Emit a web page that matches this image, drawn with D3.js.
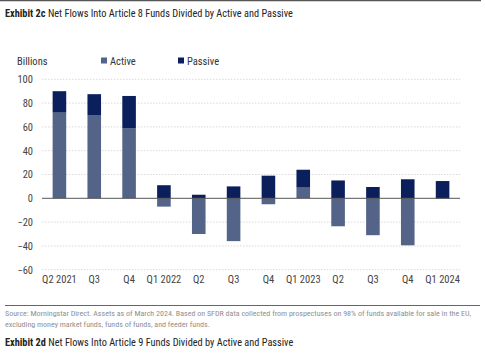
<!DOCTYPE html>
<html><head><meta charset="utf-8">
<script src="https://cdn.jsdelivr.net/npm/d3@7"></script>
<style>
body{margin:0;background:#fff;}
text{font-family:"Liberation Sans Narrow","Roboto Condensed","DejaVu Sans Condensed",sans-serif;}
</style></head>
<body><svg id="c" width="485" height="360"></svg>
<script>
const categories = ["Q2 2021","Q3","Q4","Q1 2022","Q2","Q3","Q4","Q1 2023","Q2","Q3","Q4","Q1 2024"];
const active  = [72, 70, 59, -7, -30, -36, -5, 9, -23.5, -31, -39.5, -0.5];
const passive = [18, 17.5, 27, 11, 3, 10, 19, 15, 15, 9.5, 16, 14.5];
const yTicks = [100, 80, 60, 40, 20, 0, -20, -40, -60];
const seriesNames = ["Active", "Passive"];
const colors = {Active:"#536488", Passive:"#0b1f5c"};

const svg = d3.select("#c");
const idx = categories.map((c,i)=>i);
const x = d3.scaleBand().domain(idx).range([42, 460]).paddingInner(0.61).paddingOuter(0.305);
const y = d3.scaleLinear().domain([-60, 100]).range([269.7, 79.3]);

// top rule
svg.append("line").attr("x1",0).attr("x2",481).attr("y1",0.5).attr("y2",0.5).attr("stroke","#555").attr("stroke-width",1.5);

// title
const t = svg.append("text").attr("x",5).attr("y",17).attr("font-size",10.3).attr("fill","#222");
t.append("tspan").attr("font-weight","bold").text("Exhibit 2c");
t.append("tspan").text(" Net Flows Into Article 8 Funds Divided by Active and Passive");

// legend
svg.append("text").attr("x",17).attr("y",65).attr("font-size",10.5).attr("fill","#333").text("Billions");
const leg = [{n:seriesNames[0],x:101},{n:seriesNames[1],x:178}];
leg.forEach(l=>{
  svg.append("rect").attr("x",l.x).attr("y",57.5).attr("width",6).attr("height",6).attr("fill",colors[l.n]);
  svg.append("text").attr("x",l.x+9).attr("y",65).attr("font-size",10.5).attr("fill","#333").text(l.n);
});

// y axis labels
const yAxis = d3.axisLeft(y).tickValues(yTicks).tickSize(0).tickPadding(0).tickFormat(d3.format("d"));
const ga = svg.append("g").attr("transform","translate(33,0)").call(yAxis);
ga.select(".domain").remove();
ga.selectAll("text").attr("font-size",10.5).attr("fill","#444").attr("font-family",null);

// grid
svg.append("g").selectAll("line").data(yTicks.filter(d=>d!==0)).join("line")
  .attr("x1",42).attr("x2",460).attr("y1",d=>y(d)).attr("y2",d=>y(d))
  .attr("stroke","#cfcfcf").attr("stroke-width",0.8).attr("stroke-dasharray","1.5,1.5");

// bars
const data = categories.map((c,i)=>({i, a:active[i], p:passive[i]}));
const bw = x.bandwidth();
svg.append("g").selectAll("rect").data(data).join("rect")
  .attr("x",d=>x(d.i)).attr("width",bw)
  .attr("y",d=>y(Math.max(0,d.a))).attr("height",d=>Math.abs(y(d.a)-y(0)))
  .attr("fill",colors.Active);
svg.append("g").selectAll("rect").data(data).join("rect")
  .attr("x",d=>x(d.i)).attr("width",bw)
  .attr("y",d=>y(Math.max(0,d.a)+d.p)).attr("height",d=>y(Math.max(0,d.a))-y(Math.max(0,d.a)+d.p))
  .attr("fill",colors.Passive);

// zero line
svg.append("line").attr("x1",42).attr("x2",460).attr("y1",y(0)).attr("y2",y(0)).attr("stroke","#555").attr("stroke-width",1);

// x axis labels
const xAxis = d3.axisBottom(x).tickSize(0).tickPadding(0).tickFormat(i=>categories[i]);
const gx = svg.append("g").attr("transform","translate(0,276)").call(xAxis);
gx.select(".domain").remove();
gx.selectAll("text").attr("font-size",10.5).attr("fill","#444").attr("font-family",null).attr("dy","0.71em");

// source
svg.append("line").attr("x1",5).attr("x2",480).attr("y1",305.5).attr("y2",305.5).attr("stroke","#666").attr("stroke-width",1);
svg.append("text").attr("x",5).attr("y",316).attr("font-size",8).attr("fill","#8f8f8f")
  .text("Source: Morningstar Direct. Assets as of March 2024. Based on SFDR data collected from prospectuses on 98% of funds available for sale in the EU,");
svg.append("text").attr("x",5).attr("y",327).attr("font-size",8).attr("fill","#8f8f8f")
  .text("excluding money market funds, funds of funds, and feeder funds.");
const t2 = svg.append("text").attr("x",5).attr("y",346).attr("font-size",10.3).attr("fill","#222");
t2.append("tspan").attr("font-weight","bold").text("Exhibit 2d");
t2.append("tspan").text(" Net Flows Into Article 9 Funds Divided by Active and Passive");
</script></body></html>
